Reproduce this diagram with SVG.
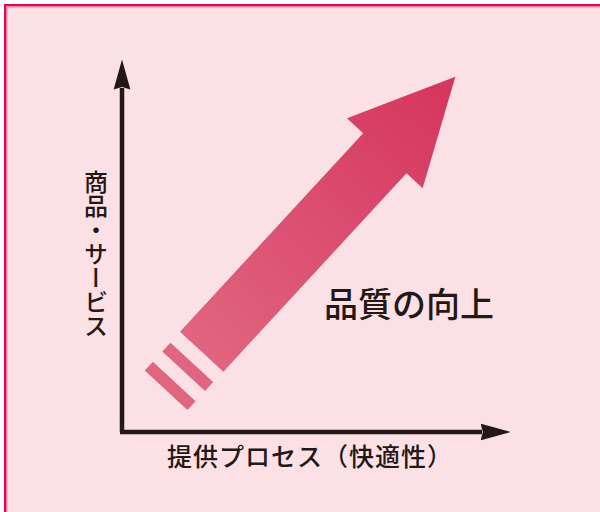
<svg xmlns="http://www.w3.org/2000/svg" width="600" height="512" viewBox="0 0 600 512">
<defs>
<style>
.lbl{font-family:"Noto Sans CJK JP","Noto Sans",sans-serif;fill:#231815;font-weight:500}
.axis{stroke:#231815;stroke-width:4.5;fill:none}
.stripe{fill:#df6580}
</style>
<marker id="ah" viewBox="0 0 10 10" refX="0.5" refY="5" markerWidth="30" markerHeight="30" markerUnits="userSpaceOnUse" orient="auto">
<path d="M0,2.2 L10,5 L0,7.8 L0.8,5 Z" fill="#231815"/>
</marker>
<linearGradient id="ag" gradientUnits="userSpaceOnUse" x1="-50" y1="0" x2="374" y2="0">
<stop offset="0" stop-color="#e26b86"/>
<stop offset="1" stop-color="#d5345d"/>
</linearGradient>
</defs>
<rect x="0" y="0" width="600" height="512" fill="#ffffff"/>
<rect x="4" y="4" width="596" height="508" fill="#fbe1e5"/>
<path d="M5,512 V5 H600" fill="none" stroke="#df0a55" stroke-width="2"/>
<path d="M6.75,512 V6.75 H600" fill="none" stroke="#f27ea2" stroke-width="1.5"/>
<g id="connectors">
<path class="axis" d="M122,432 V88" marker-end="url(#ah)"/>
<path class="axis" d="M120,432 H482" marker-end="url(#ah)"/>
</g>
<g id="arrow" transform="translate(201.7,351.7) rotate(-47.3)">
<path d="M0,-29.5 H270 V-51.5 L374,0 L270,51.5 V29.5 H0 Z" fill="url(#ag)"/>
<rect class="stripe" x="-26.6" y="-29" width="12" height="58"/>
<rect class="stripe" x="-52.5" y="-29" width="12" height="58"/>
</g>
<g id="title">
<text class="lbl" x="324" y="317" font-size="34">品質の向上</text>
</g>
<g id="yLabel">
<text class="lbl" x="96" y="170" font-size="24" style="writing-mode:vertical-rl">商品・サービス</text>
</g>
<g id="xLabel">
<text class="lbl" x="167" y="466" font-size="25" letter-spacing="1">提供プロセス（快適性）</text>
</g>
</svg>
